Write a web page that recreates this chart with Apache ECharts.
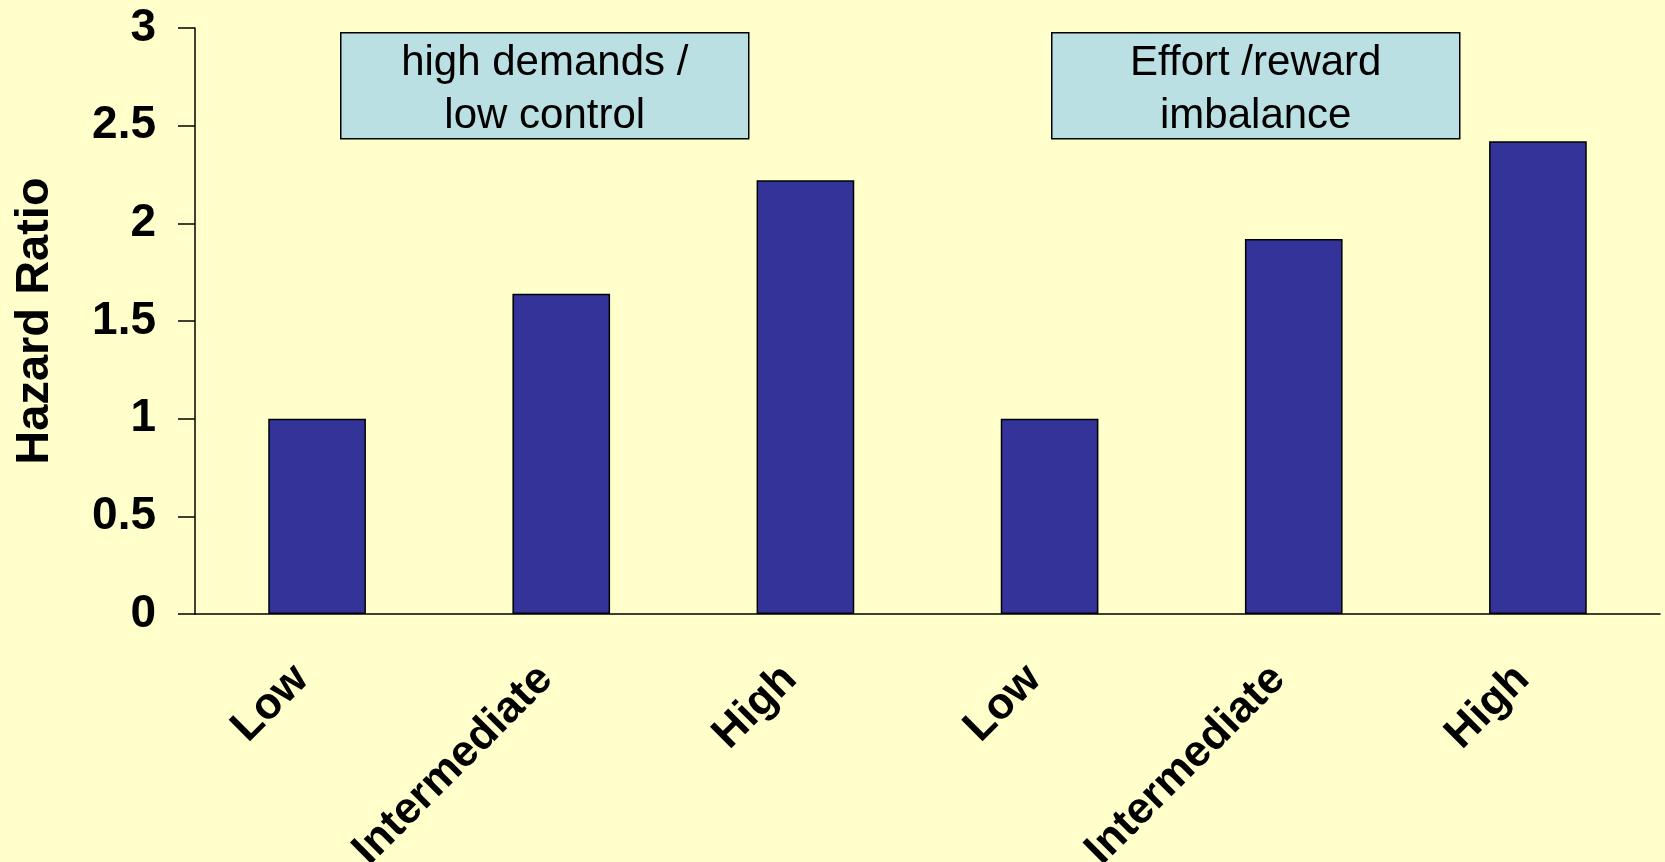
<!DOCTYPE html>
<html>
<head>
<meta charset="utf-8">
<style>
  html, body { margin: 0; padding: 0; background: #FFFFCC; }
  #chart { width: 1665px; height: 862px; }
</style>
<script src="https://cdn.jsdelivr.net/npm/echarts@6/dist/echarts.min.js"></script>
</head>
<body>
<div id="chart"></div>
<script>
// Hazard ratios by strain level for two job-stress models
const categories = ['Low', 'Intermediate', 'High', 'Low', 'Intermediate', 'High'];
const hazardRatio = [1, 1.64, 2.22, 1, 1.92, 2.42];
const yTicks = [0, 0.5, 1, 1.5, 2, 2.5, 3];
const groupLabels = ['high demands /\nlow control', 'Effort /reward\nimbalance'];

const FONT = 'Arial, "Liberation Sans", sans-serif';
const chart = echarts.init(document.getElementById('chart'));

// Caption boxes above each group of three bars
function captionBox(text, left) {
  return {
    type: 'group',
    left: left,
    top: 32,
    children: [
      {
        type: 'rect',
        shape: { x: 0, y: 0, width: 408, height: 106 },
        style: { fill: '#BBE0E3', stroke: '#000', lineWidth: 1.5 }
      },
      {
        type: 'text',
        x: 204,
        y: 57,
        style: {
          text: text,
          font: '42px ' + FONT,
          fill: '#000',
          align: 'center',
          verticalAlign: 'middle',
          lineHeight: 53
        }
      }
    ]
  };
}

chart.setOption({
  backgroundColor: '#FFFFCC',
  animation: false,
  grid: {
    left: 195, right: 5, top: 28, bottom: 248,
    containLabel: false,
    outerBoundsMode: 'none'
  },
  xAxis: {
    type: 'category',
    data: categories,
    axisLine: { lineStyle: { color: '#000', width: 1.5 } },
    axisTick: { length: 15, lineStyle: { color: '#000', width: 1.5 } },
    axisLabel: {
      interval: 0,
      rotate: 45,
      margin: 74,
      verticalAlign: 'bottom',
      color: '#000',
      fontFamily: FONT,
      fontWeight: 'bold',
      fontSize: 44
    }
  },
  yAxis: {
    type: 'value',
    min: yTicks[0],
    max: yTicks[yTicks.length - 1],
    interval: 0.5,
    name: 'Hazard Ratio',
    nameLocation: 'middle',
    nameGap: 136,
    nameTextStyle: { color: '#000', fontFamily: FONT, fontWeight: 'bold', fontSize: 47 },
    axisLine: { show: true, lineStyle: { color: '#000', width: 1.5 } },
    axisTick: { show: true, length: 17, lineStyle: { color: '#000', width: 1.5 } },
    splitLine: { show: false },
    axisLabel: {
      margin: 39,
      color: '#000',
      fontFamily: FONT,
      fontWeight: 'bold',
      fontSize: 46,
      formatter: v => String(v)
    }
  },
  series: [{
    type: 'bar',
    data: hazardRatio,
    barWidth: '40%',
    itemStyle: { color: '#333399', borderColor: '#000', borderWidth: 1.5 }
  }],
  graphic: [captionBox(groupLabels[0], 340), captionBox(groupLabels[1], 1051)]
});
</script>
</body>
</html>
